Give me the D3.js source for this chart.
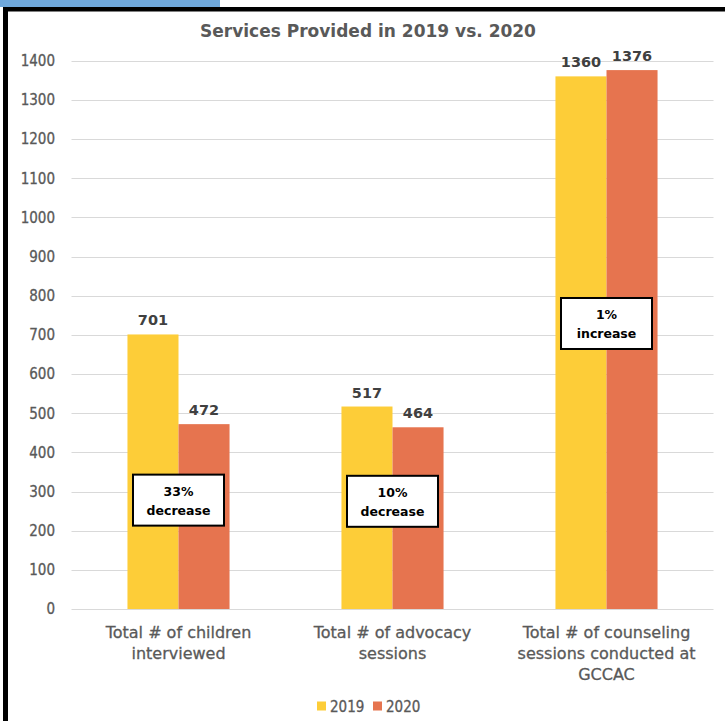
<!DOCTYPE html>
<html>
<head>
<meta charset="utf-8">
<script src="https://cdn.jsdelivr.net/npm/d3@7"></script>
<style>
  body { margin: 0; background: #fff; }
  svg { display: block; }
  .tick-label { font: 15px "DejaVu Sans Condensed", "DejaVu Sans", sans-serif; fill: #595959; stroke: #595959; stroke-width: 0.3px; }
  .cat-label { font: 16px "DejaVu Sans", sans-serif; fill: #595959; stroke: #595959; stroke-width: 0.3px; }
  .val-label { font: bold 14.5px "DejaVu Sans", sans-serif; fill: #404040; }
  .note { font: bold 12.5px "DejaVu Sans", sans-serif; fill: #000; }
  .legend text { font: 15px "DejaVu Sans Condensed", "DejaVu Sans", sans-serif; fill: #595959; stroke: #595959; stroke-width: 0.3px; }
</style>
</head>
<body>
<div id="chart"></div>
<script>
var title = "Services Provided in 2019 vs. 2020";
var categories = ["children", "advocacy", "counseling"];
var categoryLines = [
  ["Total # of children", "interviewed"],
  ["Total # of advocacy", "sessions"],
  ["Total # of counseling", "sessions conducted at", "GCCAC"]
];
var series = ["2019", "2020"];
var values2019 = [701, 517, 1360];
var values2020 = [472, 464, 1376];
var yTicks = [0, 100, 200, 300, 400, 500, 600, 700, 800, 900, 1000, 1100, 1200, 1300, 1400];
// callout boxes: category, centre value on the y axis, two text lines
var notes = [
  {cat: "children", at: 278, lines: ["33%", "decrease"]},
  {cat: "advocacy", at: 275, lines: ["10%", "decrease"]},
  {cat: "counseling", at: 729, lines: ["1%", "increase"]}
];

var colors = {"2019": "#FDCD38", "2020": "#E6744F"};

var width = 725, height = 721;
var svg = d3.select("#chart").append("svg")
  .attr("width", width)
  .attr("height", height);

// frame: blue tab, black top and left edges
svg.append("rect").attr("x", 0).attr("y", 0).attr("width", 220).attr("height", 7).attr("fill", "#6FA8DC");
svg.append("rect").attr("x", 3).attr("y", 7).attr("width", 722).attr("height", 4.5).attr("fill", "#000");
svg.append("rect").attr("x", 3).attr("y", 7).attr("width", 5).attr("height", 714).attr("fill", "#000");

var x0 = d3.scaleBand().domain(categories).range([71.5, 713.5])
  .paddingInner(0.523).paddingOuter(0.2615);
var x1 = d3.scaleBand().domain(series).range([0, x0.bandwidth()]);
var y = d3.scaleLinear().domain([0, 1400]).range([609, 60.7]);

// gridlines
svg.append("g").selectAll("line").data(yTicks).enter().append("line")
  .attr("x1", x0.range()[0]).attr("x2", x0.range()[1])
  .attr("y1", function(d){ return Math.round(y(d)) + 0.5; })
  .attr("y2", function(d){ return Math.round(y(d)) + 0.5; })
  .attr("stroke", "#d9d9d9").attr("stroke-width", 1);

svg.append("g").selectAll("text").data(yTicks).enter().append("text")
  .attr("class", "tick-label")
  .attr("x", 55)
  .attr("y", function(d){ return y(d); })
  .attr("dy", "0.36em")
  .attr("text-anchor", "end")
  .text(function(d){ return d; });

svg.append("text")
  .attr("x", 368).attr("y", 37)
  .attr("text-anchor", "middle")
  .style("font", "bold 17px 'DejaVu Sans', sans-serif")
  .style("fill", "#595959")
  .text(title);

var rows = categories.map(function(c, i){
  return {cat: c, vals: [{s: "2019", v: values2019[i]}, {s: "2020", v: values2020[i]}]};
});

var groups = svg.append("g").selectAll("g").data(rows).enter().append("g")
  .attr("transform", function(d){ return "translate(" + x0(d.cat) + ",0)"; });

groups.selectAll("rect").data(function(d){ return d.vals; }).enter().append("rect")
  .attr("x", function(d){ return x1(d.s); })
  .attr("y", function(d){ return y(d.v); })
  .attr("width", x1.bandwidth())
  .attr("height", function(d){ return y(0) - y(d.v); })
  .attr("fill", function(d){ return colors[d.s]; });

groups.selectAll(".val-label").data(function(d){ return d.vals; }).enter().append("text")
  .attr("class", "val-label")
  .attr("x", function(d){ return x1(d.s) + x1.bandwidth() / 2; })
  .attr("y", function(d){ return y(d.v) - 9; })
  .attr("text-anchor", "middle")
  .text(function(d){ return d.v; });

// category labels
var cats = svg.append("g").selectAll("text").data(categories).enter().append("text")
  .attr("class", "cat-label")
  .attr("text-anchor", "middle")
  .attr("x", function(d){ return x0(d) + x0.bandwidth() / 2; });
cats.selectAll("tspan").data(function(d, i){ return categoryLines[i]; }).enter().append("tspan")
  .attr("x", function(){ var c = this.parentNode.__data__; return x0(c) + x0.bandwidth() / 2; })
  .attr("y", function(d, i){ return 638 + i * 21; })
  .text(function(d){ return d; });

// callouts
var nb = svg.append("g").selectAll("g").data(notes).enter().append("g")
  .attr("transform", function(d){ return "translate(" + (x0(d.cat) + x0.bandwidth() / 2) + "," + y(d.at) + ")"; });
nb.append("rect")
  .attr("x", -45.5).attr("y", -25.5).attr("width", 91).attr("height", 51)
  .attr("fill", "#fff").attr("stroke", "#000").attr("stroke-width", 2);
nb.selectAll("text").data(function(d){ return d.lines; }).enter().append("text")
  .attr("class", "note")
  .attr("text-anchor", "middle")
  .attr("y", function(d, i){ return -4 + i * 19; })
  .text(function(d){ return d; });

// legend
var legend = svg.append("g").attr("class", "legend");
var lx = [317, 373];
series.forEach(function(s, i){
  legend.append("rect").attr("x", lx[i]).attr("y", 701.5).attr("width", 9).attr("height", 9).attr("fill", colors[s]);
  legend.append("text").attr("x", lx[i] + 13).attr("y", 711.5).text(s);
});
</script>
</body>
</html>
